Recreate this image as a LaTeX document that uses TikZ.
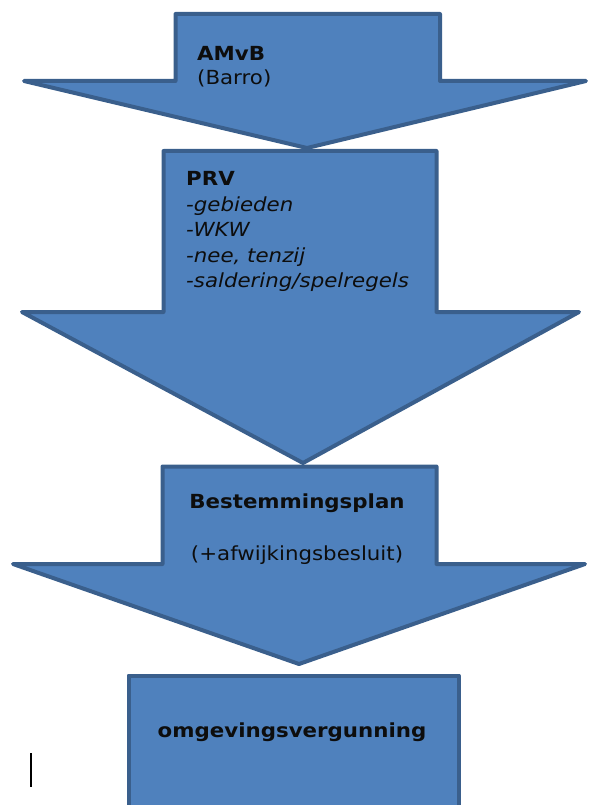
\documentclass[tikz,border=0pt]{standalone}
\usepackage{fontspec}
\setmainfont{DejaVu Sans}[FakeStretch=1.1]
\usetikzlibrary{calc}

\begin{document}
\begin{tikzpicture}[x=1pt, y=-1pt]
  \newcommand\linesp{25.5}
  \newcommand\lblsize{\fontsize{19.4}{22}\selectfont}

  \definecolor{arrowfill}{HTML}{4F81BD}
  \definecolor{arrowline}{HTML}{3A5F8C}
  \tikzset{arrowshape/.style={draw=arrowline, fill=arrowfill, line width=4pt, line join=round}}
  \tikzset{lbl/.style={inner sep=0, anchor=base west, text=black!95, font=\lblsize}}
  \tikzset{lblbold/.style={lbl, font=\lblsize\bfseries}}
  \tikzset{lblmid/.style={lbl, anchor=base}}

  \useasboundingbox (0, 0) rectangle (589, 805);
  \clip (0, 0) rectangle (589, 805);

  % the three block arrows, top to bottom
  \foreach \top/\sl/\sr/\base/\wl/\wr/\tipx/\tipy in {14/175.5/440/81/24/586/307/148,
      151/163.5/436.5/312/22/579/303/463,
      466.5/162.5/436.5/564/13/585/299/664}{
    \draw[arrowshape] (\sl, \top) -- (\sr, \top) -- (\sr, \base) -- (\wr, \base)
      -- (\tipx, \tipy) -- (\wl, \base) -- (\sl, \base) -- cycle;
  }
  % last block, runs off the bottom
  \draw[arrowshape] (128.5, 675.5) rectangle (458.5, 830);

  % labels
  \node[lblbold] at (197, 60.7) (amvb) {AMvB};
  \node[lbl] at (197, 85) (barro) {(Barro)};

  \node[lblbold] at (186, 185.7) (prv) {PRV};
  \foreach \item [count=\i from 1] in {gebieden, WKW, {nee, tenzij}, saldering/spelregels}{
    \node[lbl, font=\lblsize\itshape] at ($(prv.base west)+(0, \i*\linesp)$) (prv-\i) {-\item};
  }

  \node[lblmid, font=\lblsize\bfseries] at (297, 508) (bp) {Bestemmingsplan};
  \node[lblmid] at (297, 560) (bp-2) {(+afwijkingsbesluit)};

  \node[lblmid, font=\lblsize\bfseries] at (292, 737) (omg) {omgevingsvergunning};

  % stray text cursor
  \draw[line width=1.3pt] (31, 753) -- (31, 787);
\end{tikzpicture}
\end{document}
